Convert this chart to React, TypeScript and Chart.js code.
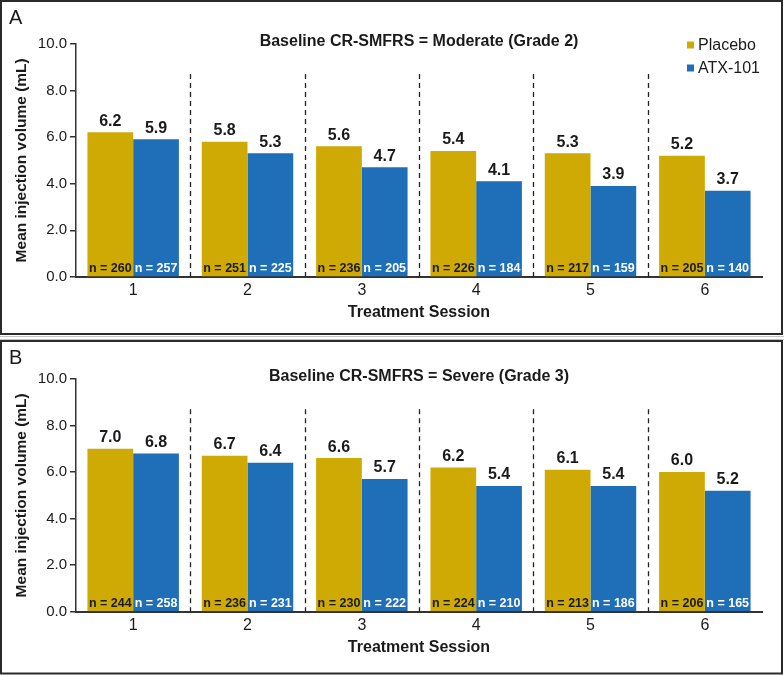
import React, { useEffect, useRef } from "react";
import { Chart, registerables } from "chart.js";

Chart.register(...registerables);

const sessions = ["1", "2", "3", "4", "5", "6"];

const placeboModerate = [6.2, 5.8, 5.6, 5.4, 5.3, 5.2];
const atxModerate = [5.9, 5.3, 4.7, 4.1, 3.9, 3.7];
const nPlaceboModerate = [260, 251, 236, 226, 217, 205];
const nAtxModerate = [257, 225, 205, 184, 159, 140];

const placeboSevere = [7.0, 6.7, 6.6, 6.2, 6.1, 6.0];
const atxSevere = [6.8, 6.4, 5.7, 5.4, 5.4, 5.2];
const nPlaceboSevere = [244, 236, 230, 224, 213, 206];
const nAtxSevere = [258, 231, 222, 210, 186, 165];

const seriesNames = ["Placebo", "ATX-101"];
const yMin = 0;
const yMax = 10;
const yStep = 2;
const separatorTop = 8.7;

const FONT = "'Liberation Sans', Arial, Helvetica, sans-serif";
const GOLD = "#CFA904";
const BLUE = "#1F6EB8";
const INK = "#1a1a1a";
const AXIS = "#333333";

type PanelProps = {
  letter: string;
  title: string;
  placebo: number[];
  atx: number[];
  nPlacebo: number[];
  nAtx: number[];
  top: number;
  height: number;
  chartTop: number;
  chartBottom: number;
  borderTop: number;
  borderBottom: number;
  letterY: number;
  showLegend: boolean;
  grayLineY: number;
};

function Panel(p: PanelProps) {
  const ref = useRef<HTMLCanvasElement | null>(null);

  useEffect(() => {
    const canvas = ref.current;
    if (!canvas) return;
    const xHeight = p.height - p.chartBottom;
    const xTitleBelowAxis = 36;
    const xTitlePadBottom = xHeight - xTitleBelowAxis - 9.6;

    const decor = {
      id: "panelDecor",
      afterDatasetsDraw(chart: any) {
        const ctx = chart.ctx as CanvasRenderingContext2D;
        const area = chart.chartArea;
        const xs = chart.scales.x;
        const ys = chart.scales.y;
        ctx.save();
        ctx.strokeStyle = "#222";
        ctx.lineWidth = 1.3;
        ctx.setLineDash([5, 4]);
        for (let i = 0; i < sessions.length - 1; i++) {
          const xPos = Math.round((xs.getPixelForValue(i) + xs.getPixelForValue(i + 1)) / 2) + 0.5;
          ctx.beginPath();
          ctx.moveTo(xPos, ys.getPixelForValue(separatorTop));
          ctx.lineTo(xPos, ys.getPixelForValue(0));
          ctx.stroke();
        }
        ctx.setLineDash([]);
        const nLists = [p.nPlacebo, p.nAtx];
        const vals = [p.placebo, p.atx];
        for (let d = 0; d < 2; d++) {
          const meta = chart.getDatasetMeta(d);
          meta.data.forEach((el: any, i: number) => {
            ctx.textAlign = "center";
            ctx.textBaseline = "bottom";
            ctx.fillStyle = INK;
            ctx.font = `bold 16px ${FONT}`;
            ctx.fillText(vals[d][i].toFixed(1), el.x, el.y - 3);
            ctx.textBaseline = "middle";
            ctx.font = `bold 12.5px ${FONT}`;
            ctx.fillStyle = d === 0 ? INK : "#ffffff";
            ctx.fillText(`n = ${nLists[d][i]}`, el.x, area.bottom - 8);
          });
        }
        ctx.restore();
      },
      afterDraw(chart: any) {
        const ctx = chart.ctx as CanvasRenderingContext2D;
        const area = chart.chartArea;
        ctx.save();
        ctx.strokeStyle = "#2b2b2b";
        ctx.lineWidth = 2;
        ctx.strokeRect(1, p.borderTop, 781, p.borderBottom - p.borderTop);
        ctx.strokeStyle = "#c4c4c4";
        ctx.lineWidth = 1;
        ctx.beginPath();
        ctx.moveTo(0, p.grayLineY);
        ctx.lineTo(784, p.grayLineY);
        ctx.stroke();
        ctx.fillStyle = INK;
        ctx.font = `20px ${FONT}`;
        ctx.textAlign = "left";
        ctx.textBaseline = "middle";
        ctx.fillText(p.letter, 9, p.letterY);
        ctx.font = `bold 16px ${FONT}`;
        ctx.textAlign = "center";
        ctx.fillText(p.title, (area.left + area.right) / 2, area.top - 2);
        if (p.showLegend) {
          const colors = [GOLD, BLUE];
          ctx.font = `16px ${FONT}`;
          ctx.textAlign = "left";
          for (let i = 0; i < seriesNames.length; i++) {
            const cy = 45 + i * 23;
            ctx.fillStyle = colors[i];
            ctx.fillRect(687, cy - 3.5, 7, 7);
            ctx.fillStyle = INK;
            ctx.fillText(seriesNames[i], 698, cy + 0.5);
          }
        }
        ctx.restore();
      },
    };

    const chart = new Chart(canvas, {
      type: "bar",
      data: {
        labels: sessions,
        datasets: [
          {
            label: seriesNames[0],
            data: p.placebo,
            backgroundColor: GOLD,
            borderWidth: 0,
            categoryPercentage: 0.8,
            barPercentage: 1.0,
          },
          {
            label: seriesNames[1],
            data: p.atx,
            backgroundColor: BLUE,
            borderWidth: 0,
            categoryPercentage: 0.8,
            barPercentage: 1.0,
          },
        ],
      },
      options: {
        animation: false,
        responsive: false,
        devicePixelRatio: 1,
        layout: {
          padding: { left: 0, top: p.chartTop, right: 22, bottom: 0 },
        },
        plugins: {
          legend: { display: false },
          title: { display: false },
          tooltip: { enabled: false },
        },
        scales: {
          x: {
            type: "category",
            grid: { display: false, drawTicks: false, tickLength: 0 },
            border: { display: true, color: AXIS, width: 2 },
            ticks: {
              color: INK,
              font: { family: FONT, size: 16 },
              padding: 4,
              maxRotation: 0,
            },
            title: {
              display: true,
              text: "Treatment Session",
              color: INK,
              font: { family: FONT, size: 16, weight: "bold" },
              padding: { top: 0, bottom: xTitlePadBottom },
            },
            afterFit(scale: any) {
              scale.height = xHeight;
            },
          },
          y: {
            min: yMin,
            max: yMax,
            ticks: {
              stepSize: yStep,
              color: INK,
              font: { family: FONT, size: 15 },
              padding: 3,
              callback: (v: any) => Number(v).toFixed(1),
            },
            grid: {
              display: true,
              drawOnChartArea: false,
              drawTicks: true,
              tickLength: 6,
              color: AXIS,
              lineWidth: 1.5,
            },
            border: { display: true, color: AXIS, width: 1.5 },
            title: {
              display: true,
              text: "Mean injection volume (mL)",
              color: INK,
              font: { family: FONT, size: 15.5, weight: "bold" },
              padding: { top: 12, bottom: 0 },
            },
            afterFit(scale: any) {
              scale.width = 76;
            },
          },
        },
      },
      plugins: [decor],
    } as any);

    return () => chart.destroy();
  }, []);

  return (
    <canvas
      ref={ref}
      width={784}
      height={p.height}
      style={{ position: "absolute", left: 0, top: p.top, width: 784, height: p.height, display: "block" }}
    />
  );
}

export default function App() {
  return (
    <div style={{ position: "fixed", left: 0, top: 0, width: 784, height: 675, background: "#ffffff", overflow: "hidden" }}>
      <Panel
        letter="A"
        title="Baseline CR-SMFRS = Moderate (Grade 2)"
        placebo={placeboModerate}
        atx={atxModerate}
        nPlacebo={nPlaceboModerate}
        nAtx={nAtxModerate}
        top={0}
        height={338}
        chartTop={43.7}
        chartBottom={277}
        borderTop={1}
        borderBottom={334}
        letterY={18}
        showLegend={true}
        grayLineY={336.5}
      />
      <Panel
        letter="B"
        title="Baseline CR-SMFRS = Severe (Grade 3)"
        placebo={placeboSevere}
        atx={atxSevere}
        nPlacebo={nPlaceboSevere}
        nAtx={nAtxSevere}
        top={338}
        height={337}
        chartTop={41}
        chartBottom={273.7}
        borderTop={3}
        borderBottom={335.5}
        letterY={20.3}
        showLegend={false}
        grayLineY={1.5}
      />
    </div>
  );
}
